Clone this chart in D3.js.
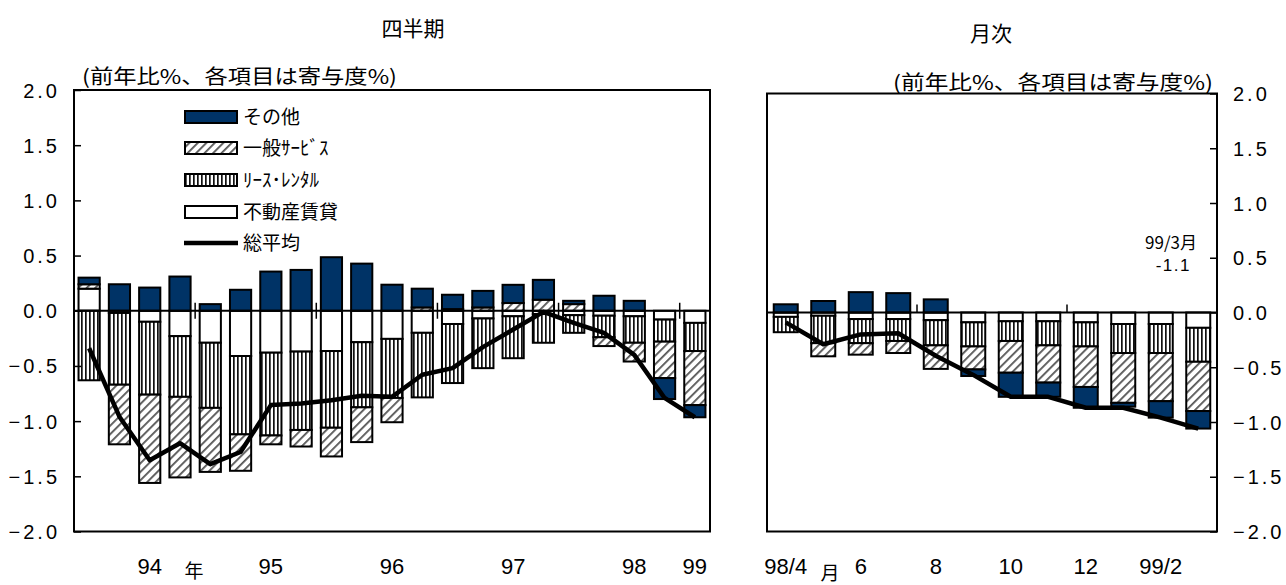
<!DOCTYPE html>
<html><head><meta charset="utf-8">
<script src="https://cdn.jsdelivr.net/npm/d3@7"></script>
<style>body{margin:0;background:#fff}svg{display:block}</style>
</head><body>
<svg id="c" width="1286" height="585"></svg>
<script>
// ---------- DATA ----------
const quarters = ["94/1","94/2","94/3","94/4","95/1","95/2","95/3","95/4","96/1","96/2","96/3","96/4",
                  "97/1","97/2","97/3","97/4","98/1","98/2","98/3","98/4","99/1"];
const qFudosan = [0.20,-0.02,-0.10,-0.23,-0.29,-0.41,-0.38,-0.37,-0.365,-0.285,-0.255,-0.20,-0.12,-0.07,-0.05,-0.03,-0.04,-0.045,-0.05,-0.08,-0.11];
const qLease   = [-0.63,-0.65,-0.66,-0.55,-0.59,-0.71,-0.75,-0.71,-0.695,-0.59,-0.535,-0.585,-0.535,-0.45,-0.38,-0.26,-0.16,-0.195,-0.24,-0.20,-0.255];
const qIppan   = [0.04,-0.54,-0.80,-0.73,-0.58,-0.33,-0.08,-0.15,-0.26,-0.315,-0.22,0.03,0.015,0.03,0.07,0.10,0.06,-0.08,-0.17,-0.33,-0.49];
const qSonota  = [0.06,0.24,0.21,0.31,0.06,0.19,0.355,0.37,0.485,0.427,0.236,0.17,0.13,0.15,0.165,0.18,0.03,0.136,0.09,-0.19,-0.11];
const qTotal   = [-0.34,-0.96,-1.355,-1.20,-1.39,-1.28,-0.855,-0.84,-0.81,-0.77,-0.78,-0.58,-0.52,-0.33,-0.17,-0.01,-0.11,-0.20,-0.40,-0.79,-0.965];
const qTickCats   = ["94/3","95/3","96/3","97/3","98/3","99/1"];
const qTickLabels = ["94","95","96","97","98","99"];

const months = ["98/4","98/5","98/6","98/7","98/8","98/9","98/10","98/11","98/12","99/1","99/2","99/3"];
const mFudosan = [-0.04,-0.03,-0.06,-0.06,-0.07,-0.09,-0.08,-0.08,-0.09,-0.105,-0.105,-0.14];
const mLease   = [-0.14,-0.25,-0.22,-0.20,-0.23,-0.22,-0.18,-0.22,-0.22,-0.265,-0.265,-0.31];
const mIppan   = [0,-0.12,-0.105,-0.11,-0.215,-0.21,-0.29,-0.34,-0.37,-0.455,-0.44,-0.45];
const mSonota  = [0.075,0.105,0.186,0.177,0.12,-0.06,-0.22,-0.13,-0.19,-0.035,-0.15,-0.16];
const mTotal   = [-0.09,-0.29,-0.20,-0.19,-0.395,-0.57,-0.77,-0.77,-0.87,-0.87,-0.96,-1.06];
const mTickCats   = ["98/4","98/6","98/8","98/10","98/12","99/2"];
const mTickLabels = ["98/4","6","8","10","12","99/2"];

const seriesKeys = ["不動産賃貸","ﾘｰｽ･ﾚﾝﾀﾙ","一般ｻｰﾋﾞｽ","その他"];
const yTicks = [2.0,1.5,1.0,0.5,0.0,-0.5,-1.0,-1.5,-2.0];
const legendNames = ["その他","一般ｻｰﾋﾞｽ","ﾘｰｽ･ﾚﾝﾀﾙ","不動産賃貸","総平均"];

// ---------- SETUP ----------
const svg = d3.select("#c");
const NAVY = "#003366";
const defs = svg.append("defs");
const pv = defs.append("pattern").attr("id","pV").attr("patternUnits","userSpaceOnUse").attr("width",4).attr("height",4);
pv.append("rect").attr("width",4).attr("height",4).attr("fill","#fff");
pv.append("rect").attr("x",1).attr("width",1.7).attr("height",4).attr("fill","#111");
const ph = defs.append("pattern").attr("id","pH").attr("patternUnits","userSpaceOnUse").attr("width",6).attr("height",6)
  .attr("patternTransform","rotate(45)");
ph.append("rect").attr("width",6).attr("height",6).attr("fill","#fff");
ph.append("rect").attr("x",0).attr("width",1.8).attr("height",6).attr("fill","#555");
const fills = {"不動産賃貸":"#fff","ﾘｰｽ･ﾚﾝﾀﾙ":"url(#pV)","一般ｻｰﾋﾞｽ":"url(#pH)","その他":NAVY};

const numFont = "'Liberation Sans', Arial, sans-serif";
const jpFont = "'Noto Sans CJK JP', sans-serif";

function buildRows(cats, a, b, c, d) {
  return cats.map((k,i)=>({cat:k,"不動産賃貸":a[i],"ﾘｰｽ･ﾚﾝﾀﾙ":b[i],"一般ｻｰﾋﾞｽ":c[i],"その他":d[i]}));
}

function panel(cfg) {
  const {cats, rows, totals, x0, x1, yTop, yBot, pad, tickCats, tickLabels, crossTicks, axisSide} = cfg;
  const x = d3.scaleBand().domain(cats).range([x0,x1]).paddingInner(pad).paddingOuter(pad/2);
  const y = d3.scaleLinear().domain([-2,2]).range([yBot,yTop]);
  const g = svg.append("g");
  const stack = d3.stack().keys(seriesKeys).offset(d3.stackOffsetDiverging)(rows);
  stack.forEach(s=>{
    g.append("g").selectAll("rect").data(s).join("rect")
      .attr("x",d=>x(d.data.cat)).attr("width",x.bandwidth())
      .attr("y",d=>y(Math.max(d[0],d[1]))).attr("height",d=>Math.abs(y(d[0])-y(d[1])))
      .attr("fill",fills[s.key]).attr("stroke","#000").attr("stroke-width",2);
  });
  g.append("line").attr("x1",x0).attr("x2",x1).attr("y1",y(0)).attr("y2",y(0)).attr("stroke","#000").attr("stroke-width",2);
  for (let i=4;i<cats.length;i+=4){
    const xx = x(cats[i]) - x.step()*x.paddingInner()/2;
    g.append("line").attr("x1",xx).attr("x2",xx)
      .attr("y1",y(0)-8).attr("y2",crossTicks? y(0)+8 : y(0))
      .attr("stroke","#000").attr("stroke-width",1.5);
  }
  const line = d3.line().x((d,i)=>x(cats[i])+x.bandwidth()/2).y(d=>y(d));
  g.append("path").datum(totals).attr("d",line).attr("fill","none").attr("stroke","#000")
    .attr("stroke-width",4.5).attr("stroke-linejoin","round");
  g.append("rect").attr("x",x0).attr("y",yTop).attr("width",x1-x0).attr("height",yBot-yTop)
    .attr("fill","none").attr("stroke","#000").attr("stroke-width",2);
  const axisX = axisSide==="left" ? x0 : x1;
  const ax = axisSide==="left" ? d3.axisRight(y) : d3.axisLeft(y);
  const ag = g.append("g").attr("transform",`translate(${axisX},0)`)
    .call(ax.tickValues(yTicks).tickSize(7).tickFormat(""));
  ag.select(".domain").remove();
  ag.selectAll("line").attr("stroke","#000").attr("stroke-width",1.5);
  g.append("g").selectAll("text").data(yTicks).join("text")
    .attr("x", axisSide==="left" ? 60 : 1233)
    .attr("y", d=>y(d)+7.5)
    .attr("text-anchor", axisSide==="left" ? "end":"start")
    .attr("font-family",numFont).attr("font-size",20).attr("letter-spacing",3)
    .text(d=>d3.format(".1f")(d));
  g.append("g").selectAll("text").data(tickCats).join("text")
    .attr("x",(d)=>x(d)+x.bandwidth()/2).attr("y",574)
    .attr("text-anchor","middle").attr("font-family",numFont).attr("font-size",22)
    .text((d,i)=>tickLabels[i]);
  return {x,y};
}

panel({cats:quarters, rows:buildRows(quarters,qFudosan,qLease,qIppan,qSonota), totals:qTotal,
  x0:74, x1:710, yTop:90, yBot:531.5, pad:0.3, tickCats:qTickCats, tickLabels:qTickLabels,
  crossTicks:true, axisSide:"left"});
panel({cats:months, rows:buildRows(months,mFudosan,mLease,mIppan,mSonota), totals:mTotal,
  x0:767, x1:1217, yTop:93.5, yBot:531.5, pad:0.36, tickCats:mTickCats, tickLabels:mTickLabels,
  crossTicks:false, axisSide:"right"});

svg.append("text").attr("x",413).attr("y",36).attr("text-anchor","middle").attr("font-family",jpFont).attr("font-size",21).text("四半期");
svg.append("text").attr("x",991).attr("y",41).attr("text-anchor","middle").attr("font-family",jpFont).attr("font-size",21).text("月次");
svg.append("text").attr("x",82).attr("y",84).attr("font-family",jpFont).attr("font-size",20)
  .attr("textLength",315).attr("lengthAdjust","spacingAndGlyphs").text("(前年比%、各項目は寄与度%)");
svg.append("text").attr("x",893).attr("y",90).attr("font-family",jpFont).attr("font-size",20)
  .attr("textLength",320).attr("lengthAdjust","spacingAndGlyphs").text("(前年比%、各項目は寄与度%)");
svg.append("text").attr("x",194).attr("y",578).attr("text-anchor","middle").attr("font-family",jpFont).attr("font-size",19).text("年");
svg.append("text").attr("x",830).attr("y",580).attr("text-anchor","middle").attr("font-family",jpFont).attr("font-size",19).text("月");
svg.append("text").attr("x",1197).attr("y",249).attr("text-anchor","end").attr("font-family",jpFont).attr("font-size",17).text("99/3月");
svg.append("text").attr("x",1191).attr("y",271).attr("text-anchor","end").attr("font-family",numFont).attr("font-size",17).attr("letter-spacing",1.5).text("-1.1");

const lg = svg.append("g");
const ly = [117,148,180,212,243];
legendNames.forEach((n,i)=>{
  if (n==="総平均") {
    lg.append("line").attr("x1",184).attr("x2",238).attr("y1",ly[i]).attr("y2",ly[i]).attr("stroke","#000").attr("stroke-width",4.5);
  } else {
    lg.append("rect").attr("x",185).attr("y",ly[i]-6).attr("width",52).attr("height",12)
      .attr("fill",fills[n]).attr("stroke","#000").attr("stroke-width",2);
  }
  lg.append("text").attr("x",243).attr("y",ly[i]+7).attr("font-family",jpFont).attr("font-size",19).text(n);
});
</script>
</body></html>
